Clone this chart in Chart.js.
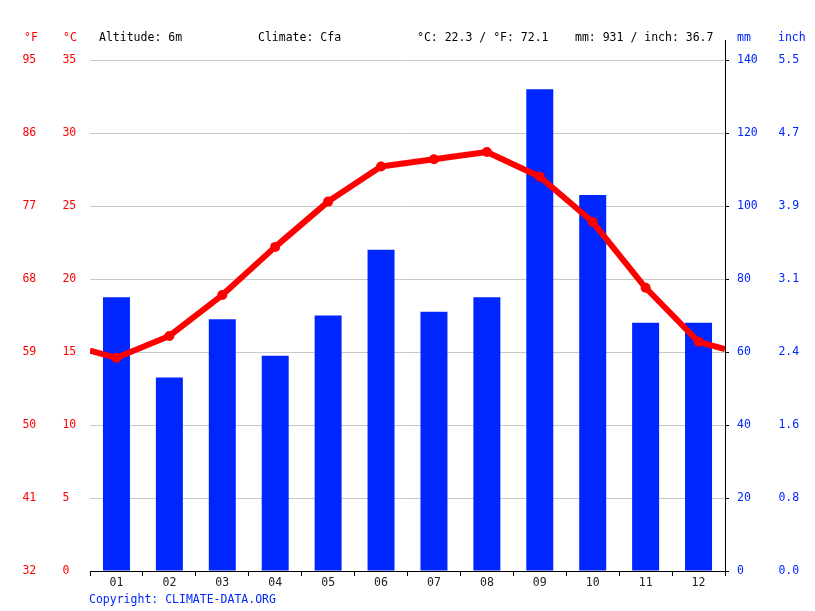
<!DOCTYPE html>
<html><head><meta charset="utf-8">
<script src="https://cdn.jsdelivr.net/npm/chart.js@4/dist/chart.umd.min.js"></script>
<style>html,body{margin:0;padding:0;background:#fff}canvas{display:block}</style>
</head><body>
<canvas id="c" width="815" height="611"></canvas>
<script>
// ---- data ----
const months = ['01','02','03','04','05','06','07','08','09','10','11','12'];
const tempC = [14.6, 16.1, 18.9, 22.2, 25.3, 27.7, 28.2, 28.7, 27.0, 23.9, 19.4, 15.7];
const tempAtPlotEdges = [15.1, 15.2]; // where the red line meets the left / right plot border
const precipMM = [75, 53, 69, 59, 70, 88, 71, 75, 132, 103, 68, 68];
const fahrenheitTicks = ['32','41','50','59','68','77','86','95'];
const inchTicks = ['0.0','0.8','1.6','2.4','3.1','3.9','4.7','5.5'];
const headerLeft = ['°F', '°C'];
const headerInfo = ['Altitude: 6m', 'Climate: Cfa', '°C: 22.3 / °F: 72.1', 'mm: 931 / inch: 36.7'];
const headerRight = ['mm', 'inch'];
const copyright = 'Copyright: CLIMATE-DATA.ORG';

const RED = '#ff0000';
const BLUE = '#0026ff';
const FONT = 'DejaVu Sans Mono';
const FSIZE = 11.5;

const lineData = [{x: 0.5, y: tempAtPlotEdges[0]}]
  .concat(tempC.map((v, i) => ({x: i + 1, y: v})))
  .concat([{x: 12.5, y: tempAtPlotEdges[1]}]);

const textPlugin = {
  id: 'texts',
  afterDraw(chart) {
    const ctx = chart.ctx;
    const ca = chart.chartArea;
    const xr = chart.scales.yMM.left;
    ctx.save();
    ctx.strokeStyle = '#000';
    ctx.lineWidth = 1;
    ctx.beginPath();
    ctx.moveTo(Math.round(xr) + 0.5, 40);
    ctx.lineTo(Math.round(xr) + 0.5, ca.top);
    ctx.stroke();
    ctx.font = FSIZE + 'px "' + FONT + '"';
    ctx.textBaseline = 'alphabetic';
    ctx.textAlign = 'left';
    const by = 41;
    ctx.fillStyle = RED;
    ctx.fillText(headerLeft[0], 24, by);
    ctx.fillText(headerLeft[1], 63, by);
    ctx.fillStyle = '#000';
    const infoX = [99, 258, 417, 575];
    headerInfo.forEach((t, i) => ctx.fillText(t, infoX[i], by));
    ctx.fillStyle = BLUE;
    ctx.fillText(headerRight[0], 737, by);
    ctx.fillText(headerRight[1], 778, by);
    ctx.fillText(copyright, 89, 603);
    ctx.restore();
  }
};

const tickFont = {family: FONT, size: FSIZE};

new Chart(document.getElementById('c'), {
  type: 'bar',
  data: {
    labels: months,
    datasets: [
      {
        type: 'line',
        data: lineData,
        xAxisID: 'x2',
        yAxisID: 'yC',
        borderColor: RED,
        backgroundColor: RED,
        borderWidth: 6,
        borderJoinStyle: 'round',
        tension: 0,
        pointRadius: ctx => (ctx.raw && (ctx.raw.x === 0.5 || ctx.raw.x === 12.5)) ? 0 : 5,
        pointBorderWidth: 0,
        pointBackgroundColor: RED,
        clip: 0,
        order: 0
      },
      {
        type: 'bar',
        data: precipMM,
        xAxisID: 'x',
        yAxisID: 'yMM',
        backgroundColor: BLUE,
        borderWidth: 0,
        grouped: false,
        barPercentage: 0.51,
        categoryPercentage: 1,
        order: 1
      }
    ]
  },
  options: {
    responsive: false,
    animation: false,
    events: [],
    layout: {padding: {left: 22.4, right: 0, top: 60, bottom: 0}},
    plugins: {legend: {display: false}, tooltip: {enabled: false}},
    scales: {
      x: {
        type: 'category',
        position: 'bottom',
        offset: true,
        grid: {offset: true, drawOnChartArea: false, drawTicks: true, tickLength: 5, color: '#000'},
        border: {display: true, color: '#000', width: 1},
        ticks: {color: '#222', font: tickFont, padding: 0, maxRotation: 0, autoSkip: false},
        afterFit: s => { s.height = 40; }
      },
      x2: {
        type: 'linear',
        position: 'bottom',
        display: false,
        offset: false,
        grid: {offset: false},
        min: 0.5,
        max: 12.5
      },
      yF: {
        type: 'linear',
        position: 'left',
        weight: 1,
        min: 0, max: 35,
        grid: {display: false, drawTicks: false},
        border: {display: false},
        ticks: {stepSize: 5, color: RED, font: tickFont, crossAlign: 'far', padding: 0,
                callback: (v, i) => fahrenheitTicks[i]},
        afterFit: s => { s.width = 40; }
      },
      yC: {
        type: 'linear',
        position: 'left',
        weight: 0,
        min: 0, max: 35,
        grid: {drawOnChartArea: true, drawTicks: false, color: '#c8c8c8', lineWidth: 1},
        border: {display: false},
        ticks: {stepSize: 5, color: RED, font: tickFont, crossAlign: 'far', padding: 0},
        afterFit: s => { s.width = 27.6; }
      },
      yMM: {
        type: 'linear',
        position: 'right',
        weight: 0,
        min: 0, max: 140,
        grid: {drawOnChartArea: false, drawTicks: true, tickLength: 4, color: '#000'},
        border: {display: true, color: '#000', width: 1},
        ticks: {stepSize: 20, color: BLUE, font: tickFont, crossAlign: 'near', padding: 8},
        afterFit: s => { s.width = 53.4; }
      },
      yIn: {
        type: 'linear',
        position: 'right',
        weight: 1,
        min: 0, max: 140,
        grid: {display: false, drawTicks: false},
        border: {display: false},
        ticks: {stepSize: 20, color: BLUE, font: tickFont, crossAlign: 'near', padding: 0,
                callback: (v, i) => inchTicks[i]},
        afterFit: s => { s.width = 36.6; }
      }
    }
  },
  plugins: [textPlugin]
});
</script>
</body></html>
